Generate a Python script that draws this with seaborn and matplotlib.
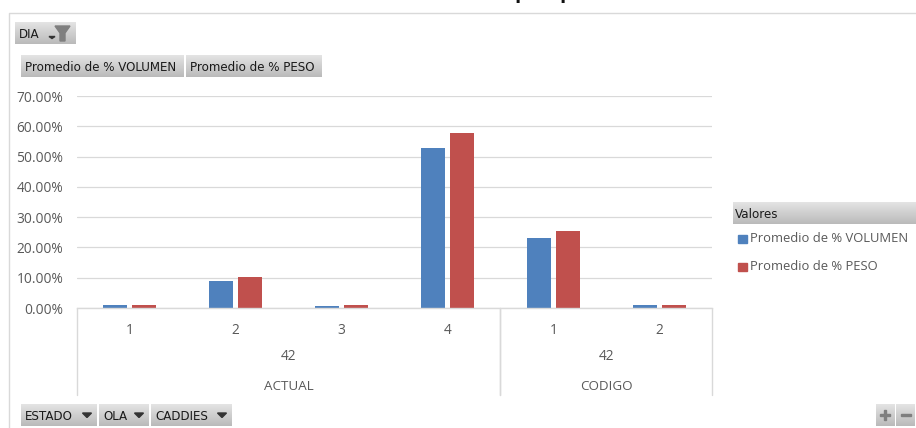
import numpy as np
import pandas as pd
import matplotlib
matplotlib.use("Agg")
import matplotlib.pyplot as plt
from matplotlib.patches import Polygon, Rectangle
import seaborn as sns

# Pivot chart data: estado / ola / caddies hierarchy with two averaged measures
estado = ["ACTUAL", "ACTUAL", "ACTUAL", "ACTUAL", "CODIGO", "CODIGO"]
ola = [42, 42, 42, 42, 42, 42]
caddies = ["1", "2", "3", "4", "1", "2"]
volumen = [1.0, 8.9, 0.7, 52.8, 23.0, 1.0]
peso = [1.0, 10.2, 1.0, 57.8, 25.5, 1.0]
series_names = ["Promedio de % VOLUMEN", "Promedio de % PESO"]
series_colors = ["#4F81BD", "#C0504D"]
y_ticks = [0, 10, 20, 30, 40, 50, 60, 70]

W, H = 916, 428
LABEL_FONT = "Open Sans"
BUTTON_FONT = "DejaVu Sans"
LABEL_COLOR = "#595959"
RULE_COLOR = "#D9D9D9"

sns.set_theme(style="white")
plt.rcParams["font.family"] = [LABEL_FONT, "DejaVu Sans"]

keys = [f"{e}-{c}" for e, c in zip(estado, caddies)]
frame = pd.DataFrame({
    "key": keys * 2,
    "valor": volumen + peso,
    "serie": [series_names[0]] * 6 + [series_names[1]] * 6,
})

fig = plt.figure(figsize=(W / 100, H / 100), dpi=100, facecolor="white")

# Full-figure layer addressed in pixels, for the frame and field buttons
ui = fig.add_axes([0, 0, 1, 1], zorder=0)
ui.set_xlim(0, W)
ui.set_ylim(H, 0)
ui.axis("off")

ax_left, ax_right, ax_top, ax_bottom = 77, 712, 96, 308
ax = fig.add_axes([ax_left / W, 1 - ax_bottom / H,
                   (ax_right - ax_left) / W, (ax_bottom - ax_top) / H], zorder=1)
ax.patch.set_alpha(0)

sns.barplot(data=frame, x="key", y="valor", hue="serie", order=keys,
            hue_order=series_names, palette=series_colors, saturation=1,
            width=0.548, gap=0.172, linewidth=0, legend=False, ax=ax)

ax.set_xlim(-0.5, 5.5)
ax.set_ylim(0, 70)
ax.set_yticks(y_ticks)
ax.set_yticklabels([f"{v:.2f}%" for v in y_ticks], fontsize=9.9, color=LABEL_COLOR)
ax.set_xticks(range(len(caddies)))
ax.set_xticklabels(caddies, fontsize=9.9, color=LABEL_COLOR)
ax.set_xlabel("")
ax.set_ylabel("")
ax.tick_params(axis="y", length=0, pad=10)
ax.tick_params(axis="x", length=0, pad=10.5)
ax.grid(axis="y", color=RULE_COLOR, linewidth=0.9)
ax.set_axisbelow(True)
for side, spine in ax.spines.items():
    spine.set_visible(side == "bottom")
ax.spines["bottom"].set_color(RULE_COLOR)
ax.spines["bottom"].set_linewidth(1.0)

# Multi-level category axis drawn beneath the plot
def below(px):
    return (ax_bottom - px) / (ax_bottom - ax_top)

trans = ax.get_xaxis_transform()
groups = []
for i, e in enumerate(estado):
    if not groups or groups[-1][0] != e:
        groups.append([e, i, i])
    groups[-1][2] = i

for name, first, last in groups:
    mid = (first + last) / 2
    ax.text(mid, below(357), str(ola[first]), transform=trans, ha="center", va="center",
            fontsize=9.9, color=LABEL_COLOR)
    ax.text(mid, below(386), name, transform=trans, ha="center", va="center",
            fontsize=9.6, color=LABEL_COLOR)
    for edge in (first - 0.5, last + 0.5):
        ax.plot([edge, edge], [0, below(395)], transform=trans, clip_on=False,
                color=RULE_COLOR, linewidth=1.0)

# Outer chart area border
ui.plot([8.5, 8.5, W], [H, 12.5, 12.5], color="#D9D9D9", linewidth=1.0)

# Clipped descenders of the chart title running off the top edge
for x_pos in (514, 559):
    ui.text(x_pos, -2, "p", fontsize=15, fontweight="bold", color="#111111",
            family="Open Sans", ha="left", va="baseline", clip_on=True)

gradient = np.linspace(0, 1, 32).reshape(-1, 1)
grey_map = matplotlib.colors.LinearSegmentedColormap.from_list("btn", ["#E4E4E4", "#BABABA"])

def button(x0, x1, y0, y1, label=None, text_x=None, arrow_x=None):
    ui.imshow(gradient, extent=(x0, x1, y1, y0), cmap=grey_map, aspect="auto",
              interpolation="bilinear", zorder=1)
    if label:
        ui.text(text_x if text_x else x0 + 4, (y0 + y1) / 2 + 1, label, family=BUTTON_FONT,
                fontsize=8.6, color="#1A1A1A", ha="left", va="center", zorder=2)
    if arrow_x:
        ui.add_patch(Polygon([(arrow_x - 4.5, y0 + 9), (arrow_x + 4.5, y0 + 9), (arrow_x, y0 + 13.5)],
                             closed=True, color="#333333", zorder=2))

button(15, 76, 22, 44, "DIA")
ui.add_patch(Polygon([(49, 36.5), (55, 36.5), (52, 38.5)], closed=True, color="#333333", zorder=2))
ui.add_patch(Polygon([(55, 26), (70, 26), (65, 33), (65, 41), (60, 41), (60, 33)],
                     closed=True, color="#7F7F7F", zorder=2))

button(21, 184, 55, 77, series_names[0])
button(186, 322, 55, 77, series_names[1])

button(21, 97, 404, 426, "ESTADO", arrow_x=87)
button(99, 149, 404, 426, "OLA", arrow_x=139)
button(151, 232, 404, 426, "CADDIES", arrow_x=222)

button(876, 895, 404, 426)
button(896, 915, 404, 426)
ui.add_patch(Rectangle((880, 414), 10, 2, color="#7F7F7F", zorder=2))
ui.add_patch(Rectangle((884, 410), 2, 10, color="#7F7F7F", zorder=2))
ui.add_patch(Rectangle((901, 414), 10, 2, color="#7F7F7F", zorder=2))

# Legend panel
button(733, W, 202, 224, "Valores", text_x=735)
for name, color, y_mid in zip(series_names, series_colors, (239, 267)):
    ui.add_patch(Rectangle((738, y_mid - 4), 9, 8, color=color, zorder=2))
    ui.text(750, y_mid - 0.5, name, fontsize=9.4, color=LABEL_COLOR, ha="left", va="center", zorder=2)

ui.set_xlim(0, W)
ui.set_ylim(H, 0)

fig.savefig("out.png", dpi=100, facecolor="white")
